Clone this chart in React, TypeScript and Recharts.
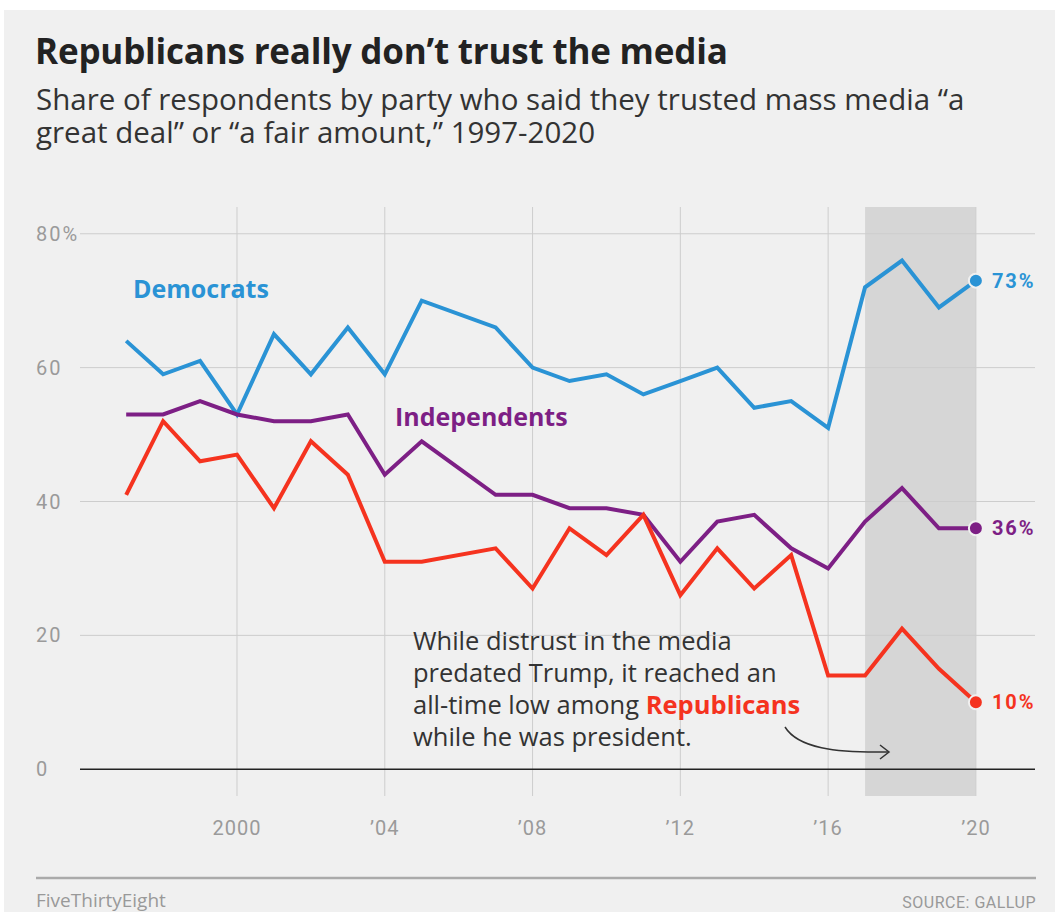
import { LineChart, Line, XAxis, YAxis, ReferenceArea, ReferenceLine, LabelList } from 'recharts';

// Gallup, no survey in 2006
const years = [1997, 1998, 1999, 2000, 2001, 2002, 2003, 2004, 2005, 2007, 2008, 2009, 2010, 2011, 2012, 2013, 2014, 2015, 2016, 2017, 2018, 2019, 2020];
const democrats = [64, 59, 61, 53, 65, 59, 66, 59, 70, 66, 60, 58, 59, 56, 58, 60, 54, 55, 51, 72, 76, 69, 73];
const independents = [53, 53, 55, 53, 52, 52, 53, 44, 49, 41, 41, 39, 39, 38, 31, 37, 38, 33, 30, 37, 42, 36, 36];
const republicans = [41, 52, 46, 47, 39, 49, 44, 31, 31, 33, 27, 36, 32, 38, 26, 33, 27, 32, 14, 14, 21, 15, 10];

const xTicks = [2000, 2004, 2008, 2012, 2016, 2020];
const xTickLabels = ['2000', '\u201904', '\u201908', '\u201912', '\u201916', '\u201920'];
const yTicks = [0, 20, 40, 60, 80];
const yTickLabels = ['0', '20', '40', '60', '80%'];
const trumpYears = [2017, 2020];

const BLUE = '#2a93d5';
const PURPLE = '#7d1f85';
const RED = '#f5331f';
const FONT = 'Roboto, "Liberation Sans", sans-serif';
const TEXT_FONT = '"Open Sans", Roboto, sans-serif';
const GRID = '#cdcdcd';

const data = years.map((year, i) => ({
  year,
  dem: democrats[i],
  ind: independents[i],
  rep: republicans[i],
}));
const last = data.length - 1;

const endDot = (color: string) => (p: any) =>
  p.index === last ? (
    <circle key={`d-${p.index}`} cx={p.cx} cy={p.cy} r={7} fill={color} stroke="#f0f0f0" strokeWidth={2} />
  ) : (
    <g key={`d-${p.index}`} />
  );

const endLabel = (color: string) => (p: any) =>
  p.index === last ? (
    <text
      x={p.x + 16}
      y={p.y}
      dominantBaseline="central"
      fill={color}
      fontFamily={FONT}
      fontWeight={700}
      fontSize={20}
      letterSpacing={2}
    >
      {p.value}%
    </text>
  ) : null;

const subStyle = { position: 'absolute' as const, left: 36, fontSize: 29.5, lineHeight: '31px', color: '#333', whiteSpace: 'nowrap' as const };

export default function App() {
  return (
    <div style={{ position: 'absolute', left: 0, top: 0, width: 1055, height: 912, background: '#fff', fontFamily: TEXT_FONT, overflow: 'hidden' }}>
      <div style={{ position: 'absolute', left: 4, top: 10, width: 1051, height: 902, background: '#f0f0f0' }} />

      <div style={{ position: 'absolute', left: 35, top: 27, fontSize: 35, fontWeight: 700, color: '#222', letterSpacing: -0.2, whiteSpace: 'nowrap' }}>
        Republicans really don’t trust the media
      </div>
      <div style={{ ...subStyle, top: 83 }}>Share of respondents by party who said they trusted mass media “a</div>
      <div style={{ ...subStyle, top: 116 }}>great deal” or “a fair amount,” 1997-2020</div>

      <div style={{ position: 'absolute', left: 0, top: 0 }}>
        <LineChart width={1055} height={912} data={data} margin={{ top: 207, right: 20, bottom: 76, left: 36 }}>
          <ReferenceArea x1={trumpYears[0]} x2={trumpYears[1]} y1={-4} y2={84} fill="#d6d6d6" fillOpacity={1} stroke="none" />
          {xTicks.map((t) => (
            <ReferenceLine key={`vx-${t}`} x={t} stroke={GRID} strokeWidth={1} />
          ))}
          {yTicks.slice(1).map((t) => (
            <ReferenceLine key={`hy-${t}`} y={t} stroke={GRID} strokeWidth={1} />
          ))}
          <XAxis
            dataKey="year"
            type="number"
            domain={[1995.75, 2021.6]}
            ticks={xTicks}
            axisLine={false}
            tickLine={false}
            height={40}
            tick={(p: any) => (
              <text x={p.x} y={p.y + 31} textAnchor="middle" fill="#9a9a9a" fontFamily={FONT} fontSize={20} letterSpacing={1}>
                {xTickLabels[xTicks.indexOf(p.payload.value)]}
              </text>
            )}
          />
          <YAxis
            type="number"
            domain={[-4, 84]}
            ticks={yTicks}
            axisLine={false}
            tickLine={false}
            width={44}
            tick={(p: any) => (
              <text x={36} y={p.y} dominantBaseline="central" fill="#9a9a9a" fontFamily={FONT} fontSize={20} letterSpacing={2}>
                {yTickLabels[yTicks.indexOf(p.payload.value)]}
              </text>
            )}
          />
          <ReferenceLine y={0} stroke="#222" strokeWidth={1.5} />
          <Line dataKey="dem" stroke={BLUE} strokeWidth={4} dot={endDot(BLUE)} activeDot={false} isAnimationActive={false} strokeLinejoin="miter">
            <LabelList dataKey="dem" content={endLabel(BLUE)} />
          </Line>
          <Line dataKey="ind" stroke={PURPLE} strokeWidth={4} dot={endDot(PURPLE)} activeDot={false} isAnimationActive={false} strokeLinejoin="miter">
            <LabelList dataKey="ind" content={endLabel(PURPLE)} />
          </Line>
          <Line dataKey="rep" stroke={RED} strokeWidth={4} dot={endDot(RED)} activeDot={false} isAnimationActive={false} strokeLinejoin="miter">
            <LabelList dataKey="rep" content={endLabel(RED)} />
          </Line>
        </LineChart>
      </div>

      <div style={{ position: 'absolute', left: 133, top: 271, fontSize: 25, fontWeight: 700, color: BLUE }}>Democrats</div>
      <div style={{ position: 'absolute', left: 395, top: 399, fontSize: 25, fontWeight: 700, color: PURPLE }}>Independents</div>

      <div style={{ position: 'absolute', left: 413, top: 624, fontSize: 25.5, lineHeight: '32px', color: '#333', whiteSpace: 'nowrap' }}>
        While distrust in the media
        <br />
        predated Trump, it reached an
        <br />
        all-time low among <span style={{ color: RED, fontWeight: 700 }}>Republicans</span>
        <br />
        while he was president.
      </div>

      <svg style={{ position: 'absolute', left: 0, top: 0 }} width={1055} height={912}>
        <path d="M785,727 C798,748 835,753 888,752" fill="none" stroke="#333" strokeWidth={1.5} />
        <path d="M880,745 L889,752 L880,759" fill="none" stroke="#333" strokeWidth={1.5} />
        <line x1={36} y1={878} x2={1036} y2={878} stroke="#aaa" strokeWidth={2.5} />
      </svg>

      <div style={{ position: 'absolute', left: 36, top: 891, fontSize: 19, lineHeight: '19px', color: '#999' }}>FiveThirtyEight</div>
      <div style={{ position: 'absolute', right: 19, top: 894, fontSize: 16, lineHeight: '17px', color: '#999', letterSpacing: 0.5, fontFamily: FONT }}>SOURCE: GALLUP</div>
    </div>
  );
}
